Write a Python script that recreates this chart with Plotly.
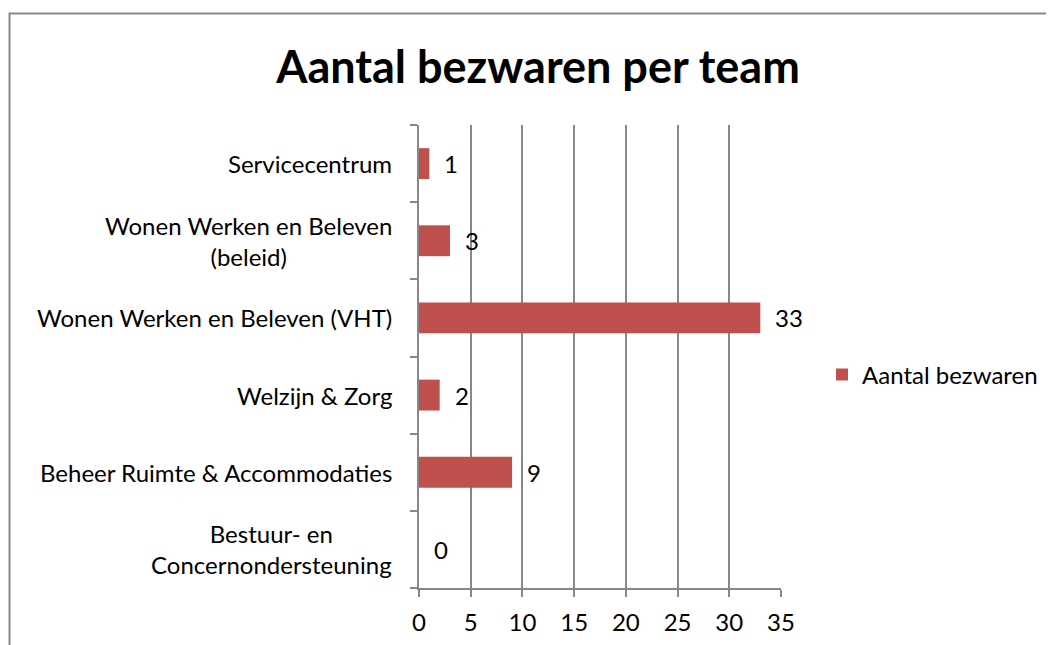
import plotly.graph_objects as go

categories = [
    "Bestuur- en<br>Concernondersteuning",
    "Beheer Ruimte & Accommodaties",
    "Welzijn & Zorg",
    "Wonen Werken en Beleven (VHT)",
    "Wonen Werken en Beleven<br>(beleid)",
    "Servicecentrum",
]
values = [0, 9, 2, 33, 3, 1]
series_name = "Aantal bezwaren"
title_text = "Aantal bezwaren per team"
x_ticks = [0, 5, 10, 15, 20, 25, 30, 35]

OFF = 8  # page body margin
W, H = 1054 - OFF, 645 - OFF
ML, MT = 419 - OFF, 125 - OFF
pw, ph = 362, 463
MR = W - ML - pw
MB = H - MT - ph

FONT = "Lato"
GRAY = "#878787"
BAR = "#C0504D"
FS = 24

fig = go.Figure()
fig.add_trace(go.Bar(
    y=categories, x=values, orientation="h", name=series_name,
    marker=dict(color=BAR, line=dict(width=0)),
    showlegend=True,
))

annotations = []
for c in categories:
    annotations.append(dict(
        x=0, xref="paper", y=c, yref="y", text=c, showarrow=False,
        xanchor="right", yanchor="middle", align="center", xshift=-25,
        font=dict(family=FONT, size=FS, color="#000000"),
    ))
for c, v in zip(categories, values):
    annotations.append(dict(
        x=v, xref="x", y=c, yref="y", text=str(v), showarrow=False,
        xanchor="left", yanchor="middle", xshift=13,
        font=dict(family=FONT, size=FS, color="#000000"),
    ))

def px_to_paper_x(px):
    return (px - OFF - ML) / pw

def px_to_paper_y(py):
    return (MT + ph - (py - OFF)) / ph

shapes = [dict(
    type="rect", xref="paper", yref="paper",
    x0=px_to_paper_x(9.5), x1=px_to_paper_x(1054 + 20),
    y0=px_to_paper_y(645 + 20), y1=px_to_paper_y(13.5),
    line=dict(color=GRAY, width=2), fillcolor="rgba(0,0,0,0)", layer="below",
)]

fig.update_layout(
    width=W, height=H,
    margin=dict(l=ML, r=MR, t=MT, b=MB, autoexpand=False),
    paper_bgcolor="white", plot_bgcolor="white",
    title=dict(text="<b>" + title_text + "</b>", x=(538 - OFF) / W, xanchor="center",
               y=1 - (67 - OFF) / H, yanchor="middle", yref="container",
               font=dict(family=FONT, size=45, color="#000000")),
    bargap=0.6,
    showlegend=True,
    legend=dict(x=px_to_paper_x(822), xanchor="left", y=px_to_paper_y(375), yanchor="middle",
                font=dict(family=FONT, size=FS, color="#000000"),
                bgcolor="rgba(0,0,0,0)", itemwidth=30),
    xaxis=dict(range=[0, 35], tickvals=x_ticks, ticktext=[str(t) for t in x_ticks],
               showgrid=True, gridcolor=GRAY, gridwidth=1.5,
               showline=True, linecolor=GRAY, linewidth=1.5,
               ticks="outside", ticklen=7, tickcolor=GRAY, tickwidth=1.5,
               ticklabelstandoff=5,
               tickfont=dict(family=FONT, size=FS, color="#000000"),
               zeroline=False, fixedrange=True),
    yaxis=dict(categoryorder="array", categoryarray=categories,
               showticklabels=False, showgrid=False,
               showline=True, linecolor=GRAY, linewidth=1.5,
               ticks="outside", ticklen=7, tickcolor=GRAY, tickwidth=1.5,
               tickson="boundaries", zeroline=False, fixedrange=True),
    annotations=annotations,
    shapes=shapes,
)

fig.write_html("out.html")
